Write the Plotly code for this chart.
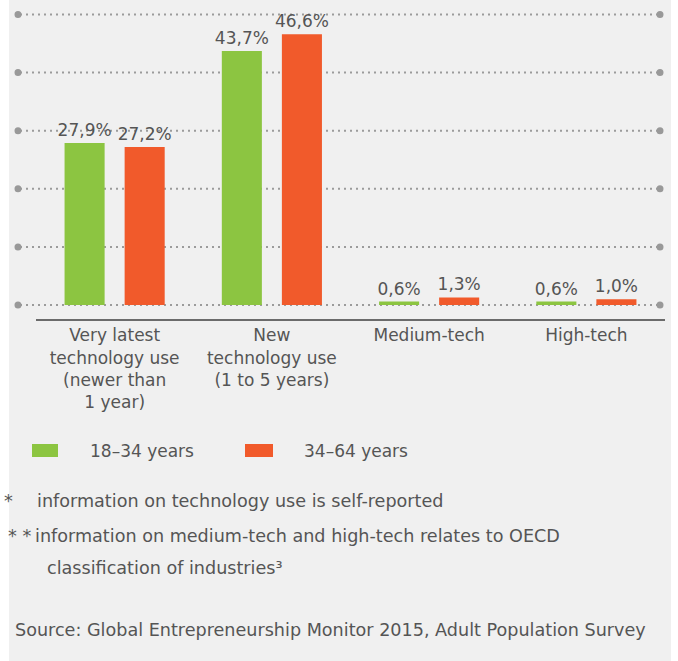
import plotly.graph_objects as go

# --- data -------------------------------------------------------------
categories = [
    "Very latest<br>technology use<br>(newer than<br>1 year)",
    "New<br>technology use<br>(1 to 5 years)",
    "Medium-tech",
    "High-tech",
]
series_names = ["18\u201334 years", "34\u201364 years"]
young = [27.9, 43.7, 0.6, 0.6]
older = [27.2, 46.6, 1.3, 1.0]
grid_values = [0, 10, 20, 30, 40, 50]

footnote_marks = ["*", "* *"]
footnotes = [
    "information on technology use is self-reported",
    "information on medium-tech and high-tech relates to OECD",
    "classification of industries\u00b3",
]
source = "Source: Global Entrepreneurship Monitor 2015, Adult Population Survey"

# --- style ------------------------------------------------------------
GREEN = "#8cc541"
ORANGE = "#f15a2b"
PANEL = "#f0f0f0"
TEXT = "#555555"
FONT = "DejaVu Sans"
FS = 17
NOTE_FS = 17.6

W, H = 678, 661
ML, MR, MT, MB = 36, 13, 10, 342
PW, PH = W - ML - MR, H - MT - MB


def px_x(px):
    return (px - ML) / PW


def px_y(py):
    return (H - MB - py) / PH


def pct(v):
    return f"{v:.1f}".replace(".", ",") + "%"


fig = go.Figure()
for name, vals, col in [(series_names[0], young, GREEN), (series_names[1], older, ORANGE)]:
    fig.add_trace(go.Bar(
        x=categories, y=vals, name=name, marker=dict(color=col, line=dict(width=0)),
        text=[pct(v) for v in vals], textposition="outside", constraintext="none",
        textfont=dict(family=FONT, size=FS, color=TEXT),
        cliponaxis=False, showlegend=False, hoverinfo="skip",
    ))

shapes = []
# light panel behind everything
shapes.append(dict(type="rect", xref="paper", yref="paper", layer="below",
                   x0=px_x(9), x1=px_x(671), y0=px_y(661), y1=px_y(0),
                   fillcolor=PANEL, line=dict(width=0)))
# dotted gridlines with round end caps
for g in grid_values:
    shapes.append(dict(type="line", xref="paper", yref="y", layer="below",
                       x0=px_x(20), x1=px_x(658), y0=g, y1=g,
                       line=dict(color="#9b9b9b", width=2, dash="2px,4px")))
    for ex in (18, 660):
        shapes.append(dict(type="circle", xref="paper", yref="y", layer="below",
                           xsizemode="pixel", ysizemode="pixel",
                           xanchor=px_x(ex), yanchor=g,
                           x0=-3.5, x1=3.5, y0=-3.5, y1=3.5,
                           fillcolor="#999999", line=dict(width=0)))
# legend swatches
shapes.append(dict(type="rect", xref="paper", yref="paper", x0=px_x(32), x1=px_x(58),
                   y0=px_y(457), y1=px_y(444), fillcolor=GREEN, line=dict(width=0)))
shapes.append(dict(type="rect", xref="paper", yref="paper", x0=px_x(245), x1=px_x(273),
                   y0=px_y(457), y1=px_y(444), fillcolor=ORANGE, line=dict(width=0)))

annotations = []
annotations.append(dict(text=series_names[0], x=px_x(88), y=px_y(451), size=FS))
annotations.append(dict(text=series_names[1], x=px_x(302), y=px_y(451), size=FS))
annotations.append(dict(text=footnote_marks[0], x=px_x(2), y=px_y(501), size=NOTE_FS))
annotations.append(dict(text=footnotes[0], x=px_x(35), y=px_y(501), size=NOTE_FS))
annotations.append(dict(text=footnote_marks[1], x=px_x(33), y=px_y(536), size=NOTE_FS,
                        xanchor="right"))
annotations.append(dict(text=footnotes[1], x=px_x(33), y=px_y(536), size=NOTE_FS))
annotations.append(dict(text=footnotes[2], x=px_x(45), y=px_y(568), size=NOTE_FS))
annotations.append(dict(text=source, x=px_x(13), y=px_y(630), size=NOTE_FS))
for a in annotations:
    size = a.pop("size")
    anchor = a.pop("xanchor", "left")
    a.update(xref="paper", yref="paper", xanchor=anchor, yanchor="middle",
             showarrow=False, font=dict(family=FONT, size=size, color=TEXT))

fig.update_layout(
    width=W, height=H,
    margin=dict(l=ML, r=MR, t=MT, b=MB, pad=0),
    paper_bgcolor="white", plot_bgcolor="rgba(0,0,0,0)",
    barmode="group", bargap=0.236, bargroupgap=0.333,
    shapes=shapes, annotations=annotations,
    font=dict(family=FONT, color=TEXT),
    xaxis=dict(categoryorder="array", categoryarray=categories,
               showline=True, linecolor="#6b6b6b", linewidth=2,
               showgrid=False, zeroline=False, ticks="",
               tickfont=dict(family=FONT, size=17, color=TEXT)),
    yaxis=dict(range=[-2.41, 50.77], showgrid=False, zeroline=False,
               showticklabels=False, ticks=""),
)

fig.write_html("out.html")
